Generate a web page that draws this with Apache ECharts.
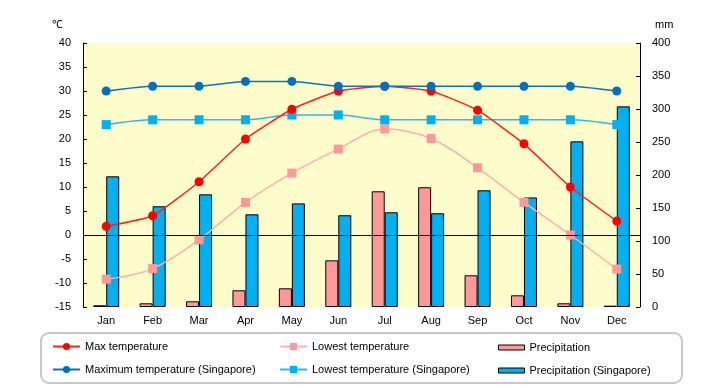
<!DOCTYPE html>
<html><head><meta charset="utf-8">
<script src="https://cdn.jsdelivr.net/npm/echarts@6/dist/echarts.min.js"></script>
<style>html,body{margin:0;padding:0;background:#fff}#c{width:720px;height:385px}</style>
</head><body><div id="c"></div>
<script>
const months = ['Jan','Feb','Mar','Apr','May','Jun','Jul','Aug','Sep','Oct','Nov','Dec'];
const maxTemp = [1.8, 4.0, 11.1, 20.0, 26.2, 30.0, 31.0, 30.0, 26.0, 19.0, 10.0, 2.9];
const lowTemp = [-9.2, -7.0, -1.0, 6.8, 12.9, 17.9, 22.1, 20.1, 14.0, 6.8, 0.0, -7.1];
const precip = [2.6, 5.6, 8.6, 25.3, 28.3, 70.7, 175.3, 181.4, 48.0, 17.7, 5.6, 2.0];
const sgMax = [30, 31, 31, 32, 32, 31, 31, 31, 31, 31, 31, 30];
const sgLow = [23, 24, 24, 24, 25, 25, 24, 24, 24, 24, 24, 23];
const sgPrecip = [198, 152.6, 170.7, 140.4, 157, 139, 143.5, 142, 176.8, 166, 251, 304];
const tempTicks = {min: -15, max: 40, interval: 5};
const mmTicks = {min: 0, max: 400, interval: 50};

const FONT = 'Liberation Sans';
const chart = echarts.init(document.getElementById('c'), null, {renderer: 'canvas'});
const txt = {fontFamily: FONT, fontSize: 11, color: '#000'};
function lg(name, left, top, w, h, extra) {
  return Object.assign({data: [name], left: left, top: top, itemWidth: w, itemHeight: h,
    textStyle: Object.assign({}, txt), selectedMode: false, padding: 0}, extra || {});
}
const barLegend = {icon: 'rect', itemStyle: {borderColor: '#000', borderWidth: 1}};
chart.setOption({
  animation: false,
  backgroundColor: '#fff',
  grid: {left: 83, right: 80, top: 43, bottom: 78, show: true, backgroundColor: '#FFFCCB', borderWidth: 0},
  graphic: [
    {type: 'rect', shape: {x: 41, y: 333, width: 641, height: 50, r: 8}, style: {fill: '#fff', stroke: '#C8C8C8', lineWidth: 2}, z: -1},
    {type: 'text', left: 52, top: 19, style: {text: '℃', font: '11px ' + FONT, fill: '#000'}},
    {type: 'text', left: 655, top: 19, style: {text: 'mm', font: '11px ' + FONT, fill: '#000'}}
  ],
  legend: [
    lg('Max temperature', 52, 341, 27, 9),
    lg('Maximum temperature (Singapore)', 52, 364, 27, 9),
    lg('Lowest temperature', 279, 341, 27, 9),
    lg('Lowest temperature (Singapore)', 279, 364, 27, 9),
    lg('Precipitation', 498, 342, 26, 5, barLegend),
    lg('Precipitation (Singapore)', 498, 365, 26, 5, barLegend)
  ],
  xAxis: {type: 'category', data: months, axisLine: {show: false}, axisTick: {show: false},
    axisLabel: Object.assign({margin: 8}, txt)},
  yAxis: [
    {type: 'value', min: tempTicks.min, max: tempTicks.max, interval: tempTicks.interval,
      axisLine: {show: true, lineStyle: {color: '#000'}}, axisTick: {show: true, inside: true, length: 4, lineStyle: {color: '#000'}},
      splitLine: {show: false}, axisLabel: Object.assign({margin: 12}, txt)},
    {type: 'value', min: mmTicks.min, max: mmTicks.max, interval: mmTicks.interval, position: 'right',
      axisLine: {show: true, lineStyle: {color: '#000'}}, axisTick: {show: true, inside: true, length: 4, lineStyle: {color: '#000'}},
      splitLine: {show: false}, axisLabel: Object.assign({margin: 12}, txt)}
  ],
  series: [
    {name: 'Precipitation', type: 'bar', yAxisIndex: 1, data: precip, barWidth: 13, barGap: '0%', z: 1,
      itemStyle: {color: '#FF9999', borderColor: '#000', borderWidth: 1}},
    {name: 'Precipitation (Singapore)', type: 'bar', yAxisIndex: 1, data: sgPrecip, barWidth: 13, barGap: '0%', z: 1,
      itemStyle: {color: '#00B0F0', borderColor: '#000', borderWidth: 1}},
    {name: 'Lowest temperature', type: 'line', data: lowTemp, smooth: 0.35, symbol: 'rect', symbolSize: 9, z: 3,
      lineStyle: {color: '#FFB0B0', width: 1.5}, itemStyle: {color: '#FF9999'},
      markLine: {silent: true, symbol: 'none', label: {show: false}, animation: false,
        lineStyle: {color: '#000', width: 1, type: 'solid'}, data: [{yAxis: 0}]}},
    {name: 'Max temperature', type: 'line', data: maxTemp, smooth: 0.15, symbol: 'circle', symbolSize: 9, z: 4,
      lineStyle: {color: '#FF2020', width: 1.5}, itemStyle: {color: '#FF0000'}},
    {name: 'Lowest temperature (Singapore)', type: 'line', data: sgLow, smooth: 0.3, symbol: 'rect', symbolSize: 9, z: 3,
      lineStyle: {color: '#30B8E8', width: 1.5}, itemStyle: {color: '#00B0F0'}},
    {name: 'Maximum temperature (Singapore)', type: 'line', data: sgMax, smooth: 0.2, symbol: 'circle', symbolSize: 9, z: 4,
      lineStyle: {color: '#1070C0', width: 1.5}, itemStyle: {color: '#0070C0'}}
  ]
});
</script></body></html>
